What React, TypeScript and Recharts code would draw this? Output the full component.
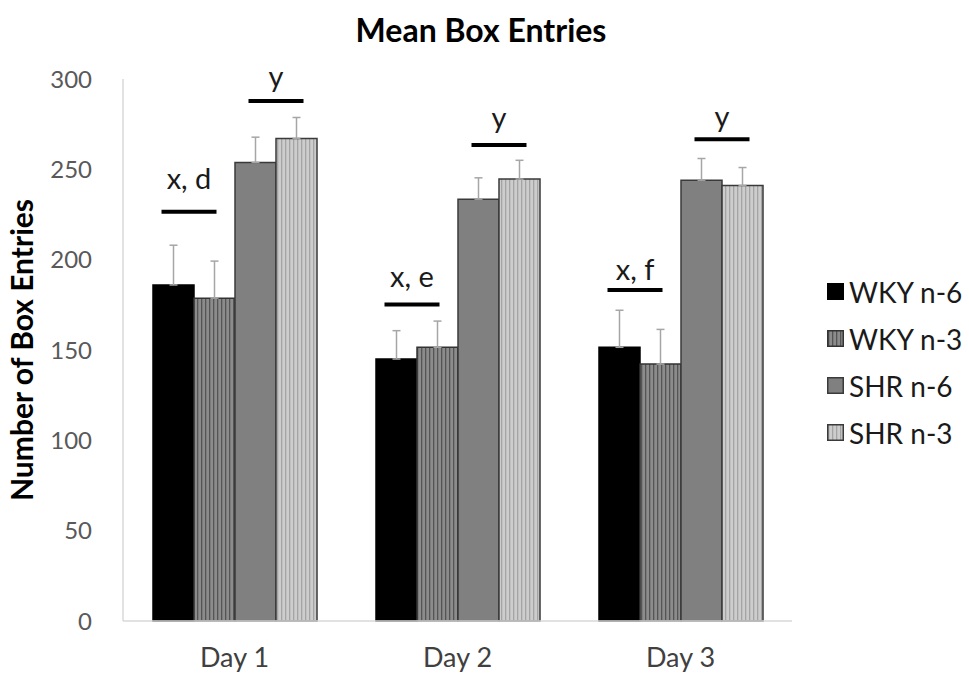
import { Bar, BarChart, ErrorBar, Legend, XAxis, YAxis } from 'recharts'

const days = ['Day 1', 'Day 2', 'Day 3']
const wkyN6 = [186, 145, 151.5]
const wkyN6Err = [22, 15.7, 20.5]
const wkyN3 = [178.7, 151.5, 142.2]
const wkyN3Err = [20.5, 14.5, 19.2]
const shrN6 = [253.8, 233.5, 244]
const shrN6Err = [14, 11.8, 12]
const shrN3 = [267.1, 244.6, 241]
const shrN3Err = [11.6, 10.4, 10]

// significance marks above the WKY pair and the SHR pair
const wkyMarkText = ['x, d', 'x, e', 'x, f']
const wkyMarkLine = [226.5, 175.2, 183.2]
const wkyMarkTextLevel = [239, 185, 188.7]
const shrMarkText = ['y', 'y', 'y']
const shrMarkLine = [287.8, 263.4, 266.6]
const shrMarkTextLevel = [295.5, 272.8, 273.5]

const yTicks = [0, 50, 100, 150, 200, 250, 300]

const data = days.map((day, i) => ({
  day,
  wkyN6: wkyN6[i],
  wkyN6Err: [0, wkyN6Err[i]],
  wkyN3: wkyN3[i],
  wkyN3Err: [0, wkyN3Err[i]],
  shrN6: shrN6[i],
  shrN6Err: [0, shrN6Err[i]],
  shrN3: shrN3[i],
  shrN3Err: [0, shrN3Err[i]],
}))

const FONT = 'Lato, "Open Sans", sans-serif'

const series = [
  { key: 'wkyN6', name: 'WKY n-6', fill: '#000000', stroke: '#000000' },
  { key: 'wkyN3', name: 'WKY n-3', fill: 'url(#stripeDark)', stroke: '#333333' },
  { key: 'shrN6', name: 'SHR n-6', fill: '#808080', stroke: '#3a3a3a' },
  { key: 'shrN3', name: 'SHR n-3', fill: 'url(#stripeLight)', stroke: '#3a3a3a' },
]

// draws the bar over a pair of bars; the pair's right bar carries it
function pairMark(lines: number[], levels: number[], texts: string[], shift: number) {
  return (props: any) => {
    const { x, y, height, value, index } = props
    if (!value) return null
    const base = y + height
    const perUnit = height / value
    const cx = x + shift
    const ly = base - lines[index] * perUnit
    const ty = base - levels[index] * perUnit
    return (
      <g>
        <line x1={cx - 27.5} x2={cx + 27.5} y1={ly} y2={ly} stroke="#000" strokeWidth={4} />
        <text
          x={cx}
          y={ty}
          textAnchor="middle"
          fontFamily={FONT}
          fontSize={29}
          fill="#1a1a1a"
        >
          {texts[index]}
        </text>
      </g>
    )
  }
}

function LegendBox() {
  return (
    <div style={{ fontFamily: FONT, fontSize: 28, color: '#1a1a1a' }}>
      {series.map((s) => (
        <div key={s.key} style={{ display: 'flex', alignItems: 'center', height: 47 }}>
          <svg width={17} height={17} style={{ marginRight: 5 }}>
            <rect x={0.75} y={0.75} width={15.5} height={15.5} fill={s.fill} stroke={s.stroke} strokeWidth={1.5} />
          </svg>
          <span>{s.name}</span>
        </div>
      ))}
    </div>
  )
}

export default function App() {
  return (
    <div style={{ position: 'absolute', left: 0, top: 0, width: 969, height: 674, background: '#fff' }}>
      <div
        style={{
          position: 'absolute',
          top: 10,
          left: 0,
          width: 962,
          textAlign: 'center',
          fontFamily: FONT,
          fontWeight: 700,
          fontSize: 32,
          color: '#000',
          lineHeight: '40px',
        }}
      >
        Mean Box Entries
      </div>
      <BarChart
        width={969}
        height={674}
        data={data}
        margin={{ top: 79, right: 177, left: 0, bottom: 0 }}
        barGap={0}
        barCategoryGap={30}
      >
        <defs>
          <pattern id="stripeDark" width={4} height={10} patternUnits="userSpaceOnUse">
            <rect width={4} height={10} fill="#8c8c8c" />
            <rect x={1} width={1.3} height={10} fill="#555555" />
          </pattern>
          <pattern id="stripeLight" width={4} height={10} patternUnits="userSpaceOnUse">
            <rect width={4} height={10} fill="#cdcdcd" />
            <rect x={1} width={1.3} height={10} fill="#a4a4a4" />
          </pattern>
        </defs>
        <XAxis
          dataKey="day"
          height={53}
          axisLine={{ stroke: '#d9d9d9', strokeWidth: 1.5 }}
          tickLine={false}
          tick={{ fontFamily: FONT, fontSize: 27, fill: '#404040' }}
          tickMargin={21}
        />
        <YAxis
          width={123}
          domain={[0, 300]}
          ticks={yTicks}
          interval={0}
          axisLine={{ stroke: '#d9d9d9', strokeWidth: 1.5 }}
          tickLine={false}
          tickMargin={25}
          tick={{ fontFamily: FONT, fontSize: 24, fill: '#595959' }}
          label={{
            value: 'Number of Box Entries',
            angle: -90,
            position: 'insideLeft',
            offset: 22,
            style: { fontFamily: FONT, fontSize: 30, fontWeight: 700, fill: '#000', textAnchor: 'middle' },
          }}
        />
        <Legend
          layout="vertical"
          align="center"
          verticalAlign="middle"
          wrapperStyle={{ left: 827, top: 268, width: 150 }}
          content={LegendBox}
        />
        {series.map((s) => (
          <Bar
            key={s.key}
            dataKey={s.key}
            name={s.name}
            fill={s.fill}
            stroke={s.stroke}
            strokeWidth={1.5}
            isAnimationActive={false}
            label={
              s.key === 'wkyN3'
                ? pairMark(wkyMarkLine, wkyMarkTextLevel, wkyMarkText, -5)
                : s.key === 'shrN3'
                  ? pairMark(shrMarkLine, shrMarkTextLevel, shrMarkText, 0)
                  : undefined
            }
          >
            <ErrorBar dataKey={`${s.key}Err`} width={4} stroke="#a6a6a6" strokeWidth={1.5} direction="y" />
          </Bar>
        ))}
      </BarChart>
    </div>
  )
}
